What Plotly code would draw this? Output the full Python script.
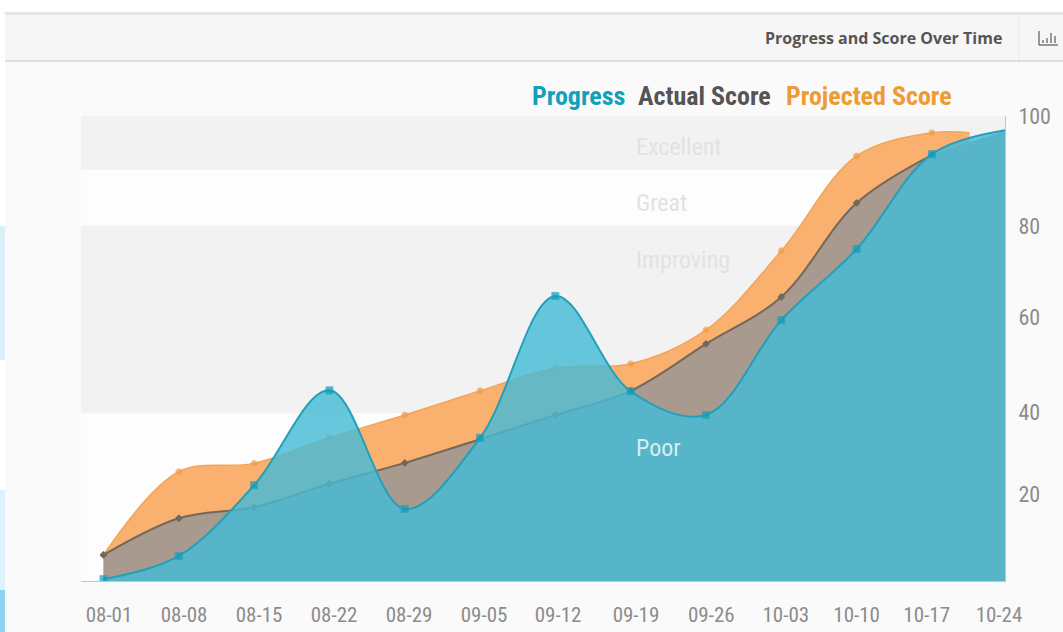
import plotly.graph_objects as go

# Category labels and tick labels
dates = ["08-01", "08-08", "08-15", "08-22", "08-29", "09-05", "09-12", "09-19", "09-26", "10-03", "10-10", "10-17", "10-24"]
x_index = list(range(13))
x_tick_positions = [0.073, 1.069, 2.065, 3.061, 4.057, 5.053, 6.036, 7.07, 8.07, 9.06, 10.0, 10.93, 11.89]
y_tick_positions = [18.6, 36.2, 56.8, 76.3, 100]
y_tick_labels = ["20", "40", "60", "80", "100"]

# Series (in plot-height percent, as the printed axis is uneven)
progress = [0.4, 5.4, 20.6, 41.0, 15.5, 30.8, 61.3, 40.8, 35.7, 56.1, 71.4, 91.8, 97.0]
actual = [5.6, 13.5, 15.9, 20.9, 25.4, 30.5, 35.7, 40.9, 51.0, 61.1, 81.3, 91.6]
projected_x = [0, 1, 2, 3, 4, 5, 6, 7, 8, 9, 10, 11, 11.5]
projected = [5.6, 23.5, 25.3, 30.8, 35.7, 40.9, 45.8, 46.7, 54.0, 71.0, 91.4, 96.4, 96.4]

bands = [(0, 36.1, "#fdfdfd"), (36.1, 76.4, "#f2f2f2"), (76.4, 88.4, "#fdfdfd"), (88.4, 100, "#f2f2f2")]
band_labels = [("Poor", 28.7, "#d5eff5"), ("Improving", 69.1, "#e2e2e2"), ("Great", 81.3, "#e2e2e2"), ("Excellent", 93.3, "#e2e2e2")]

W, H = 1063, 632
L, R, T, B = 81, 1005, 116, 581
CONDENSED = "Roboto Condensed, Roboto"
X_RANGE = [-0.299, 11.97]


def px(x):
    return (x - L) / (R - L)


def py(y):
    return (B - y) / (B - T)


def rect(x0, y0, x1, y1, color):
    return dict(type="rect", xref="paper", yref="paper", x0=px(x0), x1=px(x1), y0=py(y0), y1=py(y1),
                fillcolor=color, line_width=0, layer="below")


def seg(x0, y0, x1, y1, color, width=1):
    return dict(type="line", xref="paper", yref="paper", x0=px(x0), x1=px(x1), y0=py(y0), y1=py(y1),
                line=dict(color=color, width=width), layer="above")


fig = go.Figure()
fig.add_trace(go.Scatter(x=projected_x, y=projected, name="Projected Score", mode="lines+markers",
                         line=dict(color="#f3a557", width=1.5, shape="spline", smoothing=1),
                         marker=dict(color="#ee9a45", size=[6] * 12 + [0]), fill="tozeroy", fillcolor="#fab06e"))
# Same progress values under the top layer, so its translucent fill stays even at the right end
fig.add_trace(go.Scatter(x=x_index[11:], y=progress[11:], name="Progress base", mode="none",
                         fill="tozeroy", fillcolor="#a89a8e"))
fig.add_trace(go.Scatter(x=x_index[:12], y=actual, name="Actual Score", mode="lines+markers",
                         line=dict(color="#74675b", width=2, shape="spline", smoothing=1),
                         marker=dict(color="#74675b", size=6, symbol="diamond"),
                         fill="tozeroy", fillcolor="#a89a8e"))
fig.add_trace(go.Scatter(x=x_index, y=progress, name="Progress", mode="lines+markers",
                         line=dict(color="#22a0ba", width=2, shape="spline", smoothing=1),
                         marker=dict(color="#0e9db8", size=[7] * 12 + [0], symbol="square"),
                         fill="tozeroy", fillcolor="rgba(70,187,213,0.82)"))

shapes = [
    rect(0, 0, W, H, "#fafafa"),
    rect(0, 0, W, 12, "#ffffff"),
    rect(5, 12, W, 15, "#e4e4e4"),
    rect(5, 15, W, 60, "#f6f6f6"),
    rect(5, 60, W, 62, "#dedede"),
    rect(0, 12, 5, H, "#ffffff"),
    rect(0, 226, 5, 360, "#d9f0f8"),
    rect(0, 490, 5, 590, "#dff2fb"),
    rect(0, 590, 5, H, "#8fd3f3"),
    seg(1019, 15, 1019, 60, "#e8e8e8"),
    # chart icon
    seg(1039, 31, 1039, 45, "#666666", 1.3),
    seg(1039, 45, 1058, 45, "#666666", 1.3),
    seg(1043, 40, 1043, 43, "#666666", 1.3),
    seg(1047, 38, 1047, 43, "#666666", 1.3),
    seg(1051, 33, 1051, 43, "#666666", 1.3),
    seg(1055, 36, 1055, 43, "#666666", 1.3),
]
for lo, hi, color in bands:
    shapes.append(dict(type="rect", xref="x", yref="y", x0=X_RANGE[0], x1=X_RANGE[1], y0=lo, y1=hi,
                       fillcolor=color, line_width=0, layer="below"))

annotations = []
for text, y, color in band_labels:
    annotations.append(dict(x=px(636), xref="paper", y=y, yref="y", text=text, showarrow=False, xanchor="left",
                            yanchor="middle", xshift=-2,
                            font=dict(family=CONDENSED, size=24, color=color)))
annotations.append(dict(x=px(1004), y=py(38), xref="paper", yref="paper", text="<b>Progress and Score Over Time</b>",
                        showarrow=False, xanchor="right", yanchor="middle",
                        font=dict(family="Open Sans", size=16, color="#555555")))
for text, x0, color in [("Progress", 532, "#12a0bb"), ("Actual Score", 638, "#555555"), ("Projected Score", 786, "#ef9b33")]:
    annotations.append(dict(x=px(x0), y=py(96), xref="paper", yref="paper", text="<b>" + text + "</b>",
                            showarrow=False, xanchor="left", yanchor="middle", xshift=-2,
                            font=dict(family=CONDENSED, size=26, color=color)))

fig.update_layout(
    width=W, height=H, autosize=False,
    margin=dict(l=L, r=W - R, t=T, b=H - B, pad=0),
    paper_bgcolor="#fafafa", plot_bgcolor="#fdfdfd", showlegend=False,
    shapes=shapes, annotations=annotations,
    xaxis=dict(range=X_RANGE, tickvals=x_tick_positions, ticktext=dates, showgrid=False, zeroline=False,
               showline=True, linecolor="#c4c4c4", linewidth=1, ticks="", ticklabelstandoff=15, automargin=False,
               tickfont=dict(family=CONDENSED, size=21, color="#8c8c8c")),
    yaxis=dict(range=[0, 100], side="right", tickvals=y_tick_positions, ticktext=y_tick_labels, showgrid=False,
               zeroline=False, showline=True, linecolor="#c4c4c4", linewidth=1, ticks="", ticklabelstandoff=8, automargin=False,
               tickfont=dict(family=CONDENSED, size=22, color="#8c8c8c")),
)
fig.write_html("out.html", config=dict(displayModeBar=False),
               post_script="document.body.style.margin='0';document.documentElement.style.overflow='hidden';")
